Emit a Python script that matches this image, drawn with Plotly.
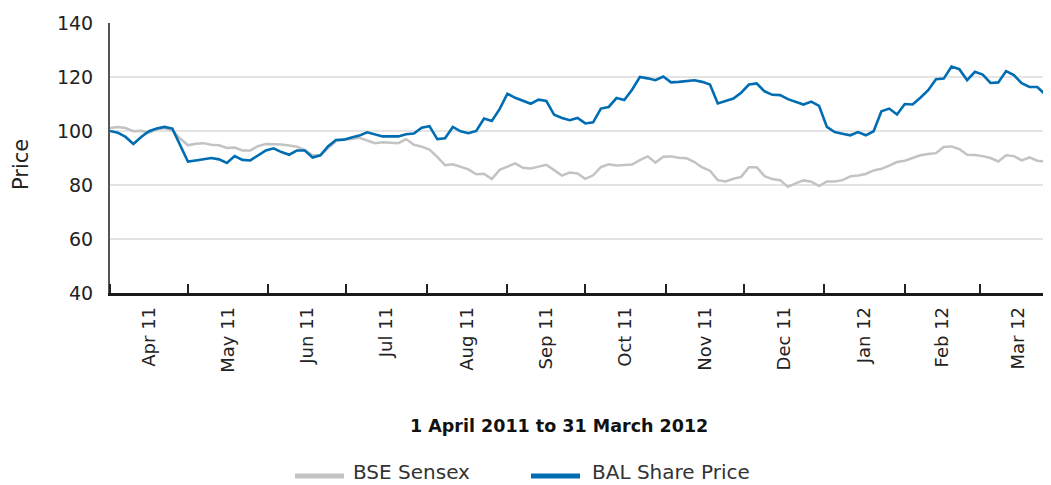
import pandas as pd
import plotly.graph_objects as go

# Sampling dates (every 3 calendar days from 1 April 2011)
dates = pd.date_range("2011-04-01", periods=122, freq="3D")

bal_share_price = [
    100.0, 99.4, 97.8, 95.2, 97.8, 99.9, 100.9, 101.5, 100.9, 94.9,
    88.7, 89.1, 89.6, 90.0, 89.5, 88.2, 90.7, 89.3, 89.1, 91.0,
    92.8, 93.6, 92.2, 91.2, 92.8, 92.8, 90.2, 91.0, 94.4, 96.7,
    96.8, 97.6, 98.3, 99.5, 98.7, 98.0, 98.0, 98.0, 98.8, 99.1,
    101.2, 101.8, 97.0, 97.3, 101.5, 99.9, 99.2, 100.0, 104.6, 103.7,
    108.1, 113.8, 112.3, 111.1, 110.1, 111.6, 111.1, 106.0, 104.8, 104.0,
    104.8, 102.8, 103.2, 108.3, 108.9, 112.2, 111.5, 115.3, 120.0, 119.5,
    118.8, 120.2, 118.0, 118.2, 118.4, 118.8, 118.2, 117.2, 110.2, 111.0,
    112.0, 114.2, 117.2, 117.6, 114.7, 113.4, 113.3, 111.8, 110.8, 109.8,
    110.9, 109.3, 101.5, 99.6, 99.0, 98.4, 99.6, 98.4, 99.9, 107.3,
    108.3, 106.1, 110.0, 109.8, 112.3, 115.1, 119.2, 119.4, 123.9, 122.9,
    118.8, 121.9, 120.9, 117.8, 118.0, 122.2, 120.7, 117.7, 116.3, 116.3,
    113.6, 112.6,
]

bse_sensex = [
    101.1, 101.5, 101.1, 99.9, 100.1, 99.4, 100.6, 101.1, 100.2, 97.2,
    94.7, 95.3, 95.5, 94.9, 94.7, 93.7, 93.9, 92.8, 92.8, 94.4,
    95.2, 95.2, 95.0, 94.6, 94.2, 92.9, 91.0, 91.0, 93.8, 96.3,
    96.8, 97.0, 97.5, 96.4, 95.5, 95.8, 95.7, 95.5, 97.0, 94.9,
    94.2, 93.1, 90.4, 87.3, 87.7, 86.7, 85.8, 84.0, 84.2, 82.2,
    85.6, 86.8, 88.0, 86.4, 86.1, 86.8, 87.5, 85.5, 83.5, 84.6,
    84.3, 82.3, 83.6, 86.6, 87.7, 87.2, 87.5, 87.6, 89.2, 90.6,
    88.3, 90.5, 90.6, 90.1, 89.9, 88.5, 86.5, 85.3, 81.8, 81.3,
    82.3, 83.0, 86.6, 86.6, 83.3, 82.2, 81.8, 79.3, 80.6, 81.7,
    81.2, 79.6, 81.3, 81.3, 81.8, 83.2, 83.5, 84.1, 85.4, 86.0,
    87.2, 88.5, 89.0, 90.0, 91.0, 91.5, 91.8, 94.1, 94.3, 93.3,
    91.2, 91.1, 90.7, 90.0, 88.7, 91.0, 90.7, 89.1, 90.2, 89.0,
    88.7, 88.5,
]

series_names = ["BSE Sensex", "BAL Share Price"]
series_colors = ["#c3c3c3", "#006db3"]
y_ticks = [40, 60, 80, 100, 120, 140]
chart_title = "1 April 2011 to 31 March 2012"
y_title = "Price"

FONT = "DejaVu Sans"
TXT = "#222222"

# The page body has an 8px default margin, so the figure is sized/offset to compensate.
fig = go.Figure()
fig.add_trace(go.Scatter(x=dates, y=bse_sensex, mode="lines", name=series_names[0],
                         line=dict(color=series_colors[0], width=2.5), showlegend=False))
fig.add_trace(go.Scatter(x=dates, y=bal_share_price, mode="lines", name=series_names[1],
                         line=dict(color=series_colors[1], width=2.6), showlegend=False))

fig.update_layout(
    width=1043, height=477,
    margin=dict(l=102, r=0, t=15, b=192),
    paper_bgcolor="white", plot_bgcolor="white",
    font=dict(family=FONT, color=TXT),
    showlegend=False,
)

fig.update_xaxes(
    type="date",
    range=["2011-04-01", "2012-03-28 07:00"],
    tick0="2011-04-01", dtick="M1",
    tickformat="%b %y", ticklabelmode="period",
    tickangle=-90, tickfont=dict(size=18, family=FONT, color=TXT),
    ticks="inside", ticklen=9, tickwidth=1.5, tickcolor="#222222",
    ticklabelstandoff=4,
    showline=True, linecolor="#1a1a1a", linewidth=2.5,
    showgrid=False, zeroline=False,
)

fig.update_yaxes(
    range=[40, 140], tickvals=y_ticks,
    tickfont=dict(size=19, family=FONT, color=TXT),
    showgrid=True, gridcolor="#e4e4e4", gridwidth=1.5,
    showline=True, linecolor="#555555", linewidth=2,
    ticks="", ticklabelstandoff=11, zeroline=False,
)

# helpers: window pixel -> paper coordinate (plot area spans x 110..1051, y 23..293 in the window)
def px_x(p):
    return (p - 110) / 941.0

def px_y(p):
    return (293 - p) / 270.0

annotations = [
    dict(text=y_title, x=px_x(21), y=px_y(165), xref="paper", yref="paper",
         textangle=-90, showarrow=False, xanchor="center", yanchor="middle",
         font=dict(size=21, family=FONT, color=TXT)),
    dict(text="<b>" + chart_title + "</b>", x=px_x(559), y=px_y(426), xref="paper", yref="paper",
         showarrow=False, xanchor="center", yanchor="middle",
         font=dict(size=17.5, family=FONT, color="#111111")),
]
legend_line_x = [(295, 344), (531, 580)]
legend_text_x = [351, 590]
shapes = []
for name, color, (xa, xb), tx in zip(series_names, series_colors, legend_line_x, legend_text_x):
    shapes.append(dict(type="line", xref="paper", yref="paper",
                       x0=px_x(xa), x1=px_x(xb), y0=px_y(476), y1=px_y(476),
                       line=dict(color=color, width=5)))
    annotations.append(dict(text=name, x=px_x(tx), y=px_y(472), xref="paper", yref="paper",
                            showarrow=False, xanchor="left", yanchor="middle",
                            font=dict(size=20, family=FONT, color="#333333")))

fig.update_layout(annotations=annotations, shapes=shapes)

fig.write_html("out.html")
